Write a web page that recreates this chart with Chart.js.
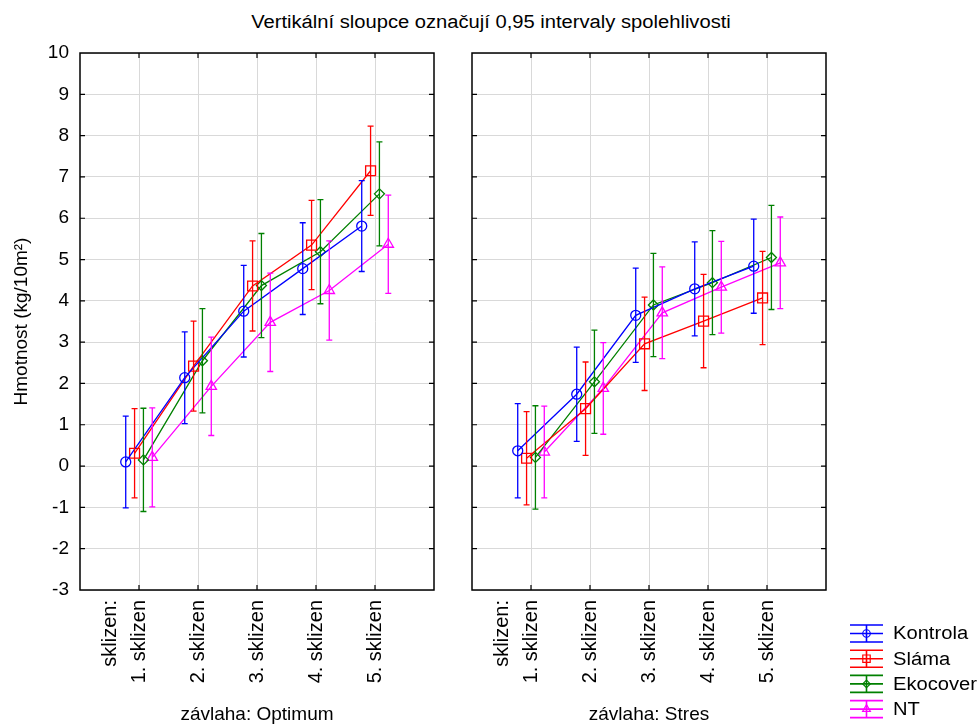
<!DOCTYPE html>
<html><head><meta charset="utf-8">
<script src="https://cdn.jsdelivr.net/npm/chart.js@4"></script>
<style>
html,body{margin:0;padding:0;background:#fff;}
body{width:979px;height:726px;position:relative;overflow:hidden;font-family:"Liberation Sans",Arial,sans-serif;}
#title{position:absolute;left:491px;top:12px;white-space:nowrap;font-size:18px;line-height:20px;transform:translateX(-50%) scaleX(1.12);color:#000;}
#cL{position:absolute;left:0;top:0;}
#cR{position:absolute;left:452px;top:0;}
</style></head><body>
<div id="title">Vertikální sloupce označují 0,95 intervaly spolehlivosti</div>
<canvas id="cL" width="452" height="726"></canvas>
<canvas id="cR" width="527" height="726"></canvas>
<script>
// ---- data ----
const harvests = [1, 2, 3, 4, 5];
const harvestLabels = ['1. sklizen', '2. sklizen', '3. sklizen', '4. sklizen', '5. sklizen'];
const harvestHeading = 'sklizen:';
const seriesNames = ['Kontrola', 'Sláma', 'Ekocover', 'NT'];
const panelTitles = ['závlaha: Optimum', 'závlaha: Stres'];
const yTitle = 'Hmotnost (kg/10m²)';
const chartTitle = 'Vertikální sloupce označují 0,95 intervaly spolehlivosti';

// Optimum: means and 0.95 CI half-widths
const optKontrola = [0.10, 2.14, 3.75, 4.78, 5.81];
const optSlama    = [0.31, 2.42, 4.36, 5.35, 7.15];
const optEkocover = [0.15, 2.55, 4.37, 5.19, 6.59];
const optNT       = [0.21, 1.93, 3.48, 4.25, 5.37];
const optKontrolaCI = [1.11, 1.11, 1.11, 1.11, 1.10];
const optSlamaCI    = [1.08, 1.09, 1.09, 1.08, 1.08];
const optEkocoverCI = [1.25, 1.26, 1.26, 1.26, 1.26];
const optNTCI       = [1.20, 1.19, 1.19, 1.20, 1.19];

// Stres
const strKontrola = [0.37, 1.74, 3.65, 4.29, 4.84];
const strSlama    = [0.19, 1.39, 2.96, 3.51, 4.07];
const strEkocover = [0.21, 2.04, 3.90, 4.44, 5.05];
const strNT       = [0.34, 1.88, 3.71, 4.33, 4.92];
const strKontrolaCI = [1.14, 1.14, 1.14, 1.14, 1.14];
const strSlamaCI    = [1.13, 1.13, 1.13, 1.13, 1.13];
const strEkocoverCI = [1.25, 1.25, 1.25, 1.26, 1.26];
const strNTCI       = [1.11, 1.11, 1.11, 1.11, 1.11];

// ---- styles ----
const colors = ['#0000ff', '#ff0000', '#008000', '#ff00ff'];
const pStyles = ['circle', 'rect', 'rectRot', 'triangle'];
const pRadius = [5, 7, 5, 6];
const xShift = [-0.225, -0.075, 0.075, 0.225];
const FONT = '"Liberation Sans", Arial, sans-serif';

function buildDatasets(means, cis) {
  return means.map((m, i) => ({
    label: seriesNames[i],
    data: harvests.map((h, j) => ({x: h + xShift[i], y: m[j], e: cis[i][j]})),
    borderColor: colors[i],
    backgroundColor: 'rgba(0,0,0,0)',
    borderWidth: 1.3,
    pointStyle: pStyles[i],
    pointRadius: pRadius[i],
    pointBorderWidth: 1.3,
    pointBorderColor: colors[i],
    pointBackgroundColor: 'rgba(0,0,0,0)',
    showLine: true,
    tension: 0,
    fill: false
  }));
}

const errorBars = {
  id: 'errorBars',
  afterDatasetsDraw(chart) {
    const ctx = chart.ctx, ys = chart.scales.y;
    chart.data.datasets.forEach((ds, i) => {
      const meta = chart.getDatasetMeta(i);
      ctx.save();
      ctx.strokeStyle = ds.borderColor;
      ctx.lineWidth = 1.3;
      meta.data.forEach((pt, j) => {
        const d = ds.data[j];
        const yt = ys.getPixelForValue(d.y + d.e), yb = ys.getPixelForValue(d.y - d.e);
        ctx.beginPath();
        ctx.moveTo(pt.x, yt); ctx.lineTo(pt.x, yb);
        ctx.moveTo(pt.x - 3, yt); ctx.lineTo(pt.x + 3, yt);
        ctx.moveTo(pt.x - 3, yb); ctx.lineTo(pt.x + 3, yb);
        ctx.stroke();
      });
      ctx.restore();
    });
  }
};

const frame = {
  id: 'frame',
  afterDraw(chart) {
    const ctx = chart.ctx, a = chart.chartArea, xs = chart.scales.x, ys = chart.scales.y;
    ctx.save();
    ctx.strokeStyle = '#000';
    ctx.lineWidth = 1.5;
    ctx.strokeRect(a.left, a.top, a.right - a.left, a.bottom - a.top);
    ctx.lineWidth = 1.2;
    ctx.beginPath();
    for (let v = -2; v <= 9; v++) {
      const y = ys.getPixelForValue(v);
      ctx.moveTo(a.left, y); ctx.lineTo(a.left + 5, y);
      ctx.moveTo(a.right, y); ctx.lineTo(a.right - 5, y);
    }
    harvests.forEach(h => {
      const x = xs.getPixelForValue(h);
      ctx.moveTo(x, a.top); ctx.lineTo(x, a.top + 5);
      ctx.moveTo(x, a.bottom); ctx.lineTo(x, a.bottom - 5);
    });
    ctx.stroke();
    ctx.restore();
  }
};

const legendPlugin = {
  id: 'customLegend',
  afterDraw(chart) {
    const ctx = chart.ctx;
    const x0 = 398, x1 = 431, xc = (x0 + x1) / 2;
    chart.data.datasets.forEach((ds, i) => {
      const cy = 633.5 + i * 25.2;
      ctx.save();
      ctx.strokeStyle = ds.borderColor;
      ctx.lineWidth = 1.6;
      ctx.beginPath();
      [-8.5, 0, 8.5].forEach(dy => { ctx.moveTo(x0, cy + dy); ctx.lineTo(x1, cy + dy); });
      ctx.moveTo(xc, cy - 8.5); ctx.lineTo(xc, cy + 8.5);
      ctx.stroke();
      ctx.lineWidth = 1.2;
      ctx.fillStyle = 'rgba(0,0,0,0)';
      Chart.helpers.drawPoint(ctx, {pointStyle: ds.pointStyle, radius: ds.pointRadius * 0.75, borderWidth: 1.2, rotation: 0}, xc, cy);
      ctx.restore();
      ctx.save();
      ctx.fillStyle = '#000';
      ctx.font = '18px ' + FONT;
      ctx.textBaseline = 'middle';
      ctx.translate(441, cy + 1);
      ctx.scale(1.12, 1);
      ctx.fillText(ds.label, 0, 0);
      ctx.restore();
    });
  }
};

function makePanel(canvasId, means, cis, panelIdx) {
  const isLeft = panelIdx === 0;
  const plugins = [errorBars, frame];
  if (!isLeft) plugins.push(legendPlugin);
  return new Chart(document.getElementById(canvasId), {
    type: 'line',
    data: {datasets: buildDatasets(means, cis)},
    plugins: plugins,
    options: {
      responsive: false,
      animation: false,
      layout: {padding: {top: 53, left: 0, bottom: 0, right: isLeft ? 18 : 153}},
      plugins: {legend: {display: false}, tooltip: {enabled: false}, title: {display: false}},
      scales: {
        x: {
          type: 'linear', min: 0, max: 6,
          afterBuildTicks(scale) {
            scale.ticks = [{value: 0.52}].concat(harvests.map(h => ({value: h})));
          },
          afterFit(scale) { scale.height = 136; },
          border: {display: false},
          grid: {
            drawTicks: false,
            color: c => (c.tick && Number.isInteger(c.tick.value) && c.tick.value >= 1 && c.tick.value <= 5) ? '#d9d9d9' : 'rgba(0,0,0,0)',
            lineWidth: 1
          },
          ticks: {
            autoSkip: false,
            minRotation: 90, maxRotation: 90,
            padding: 10,
            color: '#000',
            font: {family: FONT, size: 20},
            callback: v => (v === 0.52 ? harvestHeading : (harvests.indexOf(v) >= 0 ? harvestLabels[harvests.indexOf(v)] : ''))
          },
          title: {
            display: true, text: panelTitles[panelIdx], color: '#000',
            font: {family: FONT, size: 19}, padding: {top: 0, bottom: 0}
          }
        },
        y: {
          type: 'linear', min: -3, max: 10,
          afterFit(scale) { scale.width = isLeft ? 80 : 20; },
          border: {display: false},
          grid: {drawTicks: false, color: '#d9d9d9', lineWidth: 1},
          ticks: {
            stepSize: 1, display: isLeft, padding: 11, color: '#000',
            font: {family: FONT, size: 19}
          },
          title: {
            display: isLeft, text: yTitle, color: '#000',
            font: {family: FONT, size: 19}, padding: {top: 10, bottom: 0}
          }
        }
      }
    }
  });
}

makePanel('cL', [optKontrola, optSlama, optEkocover, optNT], [optKontrolaCI, optSlamaCI, optEkocoverCI, optNTCI], 0);
makePanel('cR', [strKontrola, strSlama, strEkocover, strNT], [strKontrolaCI, strSlamaCI, strEkocoverCI, strNTCI], 1);
</script>
</body></html>
